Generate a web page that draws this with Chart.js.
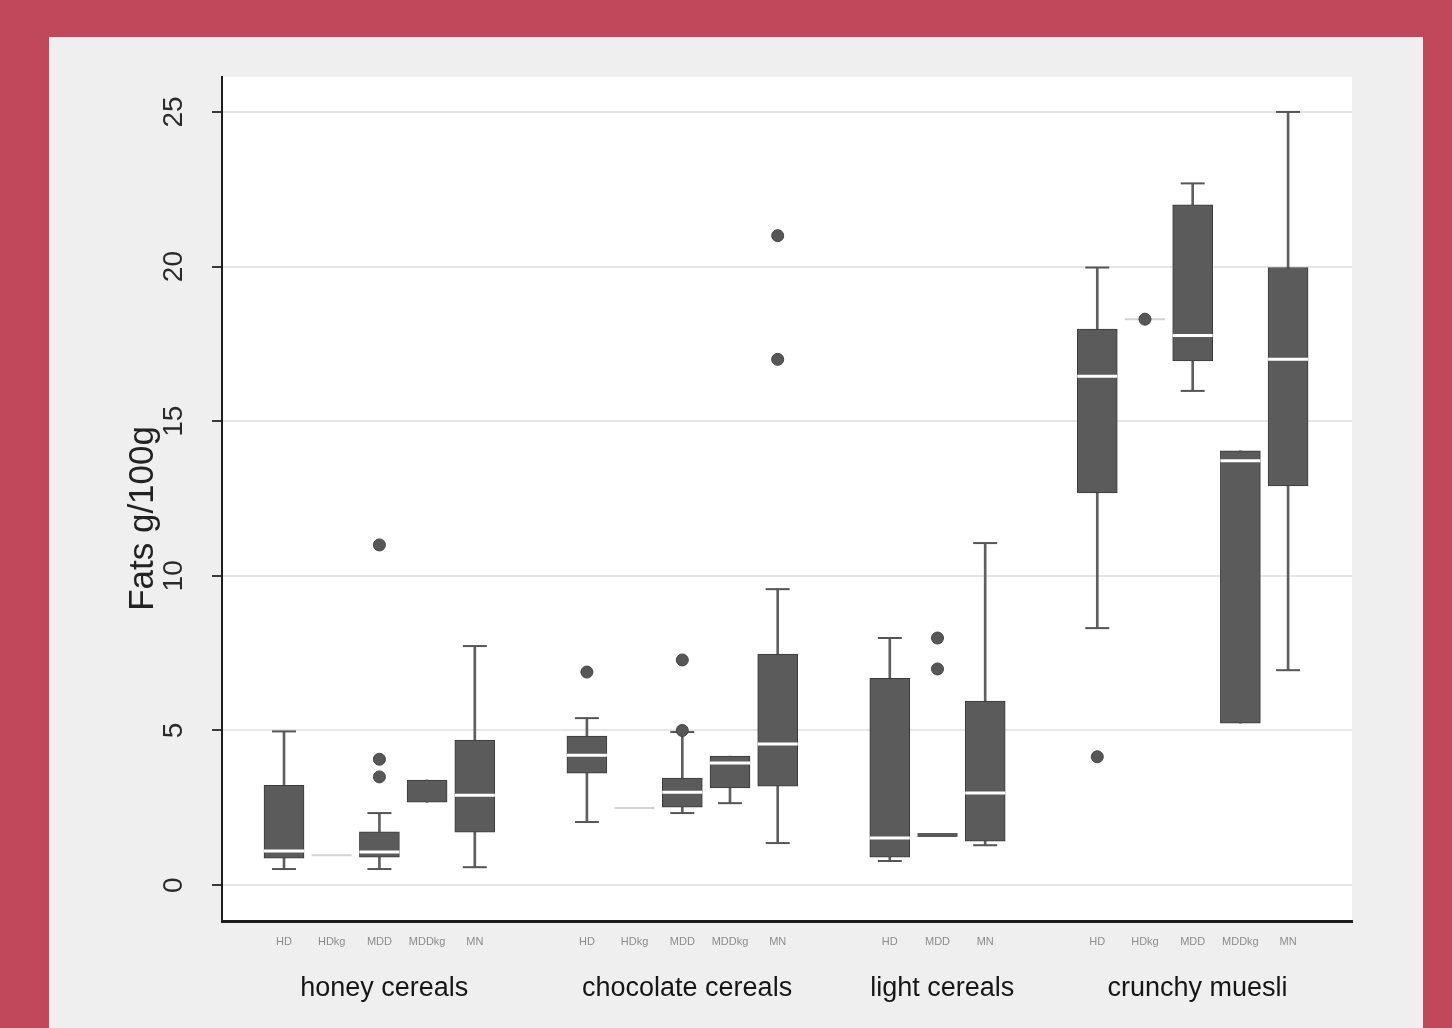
<!DOCTYPE html>
<html><head><meta charset="utf-8">
<script src="https://cdn.jsdelivr.net/npm/chart.js@4.4.1/dist/chart.umd.min.js"></script>
<style>html,body{margin:0;padding:0;background:#c1485a;overflow:hidden}canvas{display:block}</style>
</head><body>
<canvas id="c" width="1452" height="1028"></canvas>
<script>
// ---- data ----
const groups = ["honey cereals", "chocolate cereals", "light cereals", "crunchy muesli"];
const subLabels = [
  ["HD", "HDkg", "MDD", "MDDkg", "MN"],
  ["HD", "HDkg", "MDD", "MDDkg", "MN"],
  ["HD", "MDD", "MN"],
  ["HD", "HDkg", "MDD", "MDDkg", "MN"]
];
const whiskerLow  = [0.52, 0.97, 0.52, 2.68, 0.58,  2.04, 2.49, 2.33, 2.65, 1.36,  0.78, 1.62, 1.29,  8.31, 18.3, 15.98, 5.24, 6.95];
const q1          = [0.87, 0.97, 0.90, 2.68, 1.71,  3.62, 2.49, 2.52, 3.14, 3.20,  0.90, 1.62, 1.42, 12.68, 18.3, 16.95, 5.24, 12.91];
const median      = [1.10, 0.97, 1.07, null, 2.91,  4.20, 2.49, 3.00, 3.95, 4.56,  1.52, 1.62, 2.98, 16.45, 18.3, 17.77, 13.72, 17.00];
const q3          = [3.23, 0.97, 1.72, 3.40, 4.69,  4.82, 2.49, 3.46, 4.17, 7.47,  6.69, 1.62, 5.95, 17.98, 18.3, 22.00, 14.04, 19.97];
const whiskerHigh = [4.97, 0.97, 2.33, 3.40, 7.73,  5.40, 2.49, 4.95, 4.17, 9.57,  7.99, 1.62, 11.06, 19.97, 18.3, 22.69, 14.04, 25.00];
const outliers = [
  [], [], [3.50, 4.07, 11.00], [], [],
  [6.89], [], [5.00, 7.28], [], [17.00, 21.00],
  [], [6.99, 7.99], [],
  [4.15], [18.30], [], [], []
];
const yTicks = [0, 5, 10, 15, 20, 25];
const yTitle = "Fats g/100g";

// ---- layout helpers (positions derived from structure) ----
const GAP = 2.35;
const positions = [], groupCenters = [], flatLabels = [];
let start = 0;
subLabels.forEach(list => {
  list.forEach((lab, i) => { positions.push(start + i); flatLabels.push(lab); });
  groupCenters.push(start + (list.length - 1) / 2 + 0.1);
  start += list.length - 1 + GAP;
});
const flatStyle = { 11: { color: '#5a5a5a', width: 4 } };

const boxPts = [], whiskerPts = [], capPts = [], medPts = [], flatPts = [], flatColors = [], flatWidths = [], outPts = [];
positions.forEach((x, i) => {
  if (q1[i] === q3[i]) {
    flatPts.push({ x, y: q1[i] });
    const st = flatStyle[i] || { color: '#d2d2d2', width: 2 };
    flatColors.push(st.color); flatWidths.push(st.width);
  } else {
    boxPts.push({ x, y: [q1[i], q3[i]] });
    whiskerPts.push({ x, y: [whiskerLow[i], whiskerHigh[i]] });
    if (whiskerHigh[i] > q3[i]) capPts.push({ x, y: whiskerHigh[i] });
    if (whiskerLow[i] < q1[i]) capPts.push({ x, y: whiskerLow[i] });
    if (median[i] !== null) medPts.push({ x, y: median[i] });
  }
  outliers[i].forEach(v => outPts.push({ x, y: v }));
});

const FONT = "'Liberation Sans', Arial, sans-serif";
const bgPlugin = {
  id: 'bg',
  beforeDraw(chart) {
    const c = chart.ctx, a = chart.chartArea;
    c.save();
    c.fillStyle = '#c1485a'; c.fillRect(0, 0, chart.width, chart.height);
    c.fillStyle = '#efefef'; c.fillRect(49, 37, 1374, chart.height - 37);
    c.fillStyle = '#ffffff'; c.fillRect(a.left, a.top, a.right - a.left, a.bottom - a.top);
    c.restore();
  }
};

new Chart(document.getElementById('c'), {
  type: 'bar',
  data: {
    datasets: [
      { type: 'scatter', label: 'median', data: medPts, xAxisID: 'x', yAxisID: 'y', pointStyle: 'line', radius: 20, borderColor: '#ffffff', borderWidth: 3, order: 0 },
      { type: 'scatter', label: 'flat', data: flatPts, xAxisID: 'x', yAxisID: 'y', pointStyle: 'line', radius: 20, borderColor: flatColors, borderWidth: flatWidths, order: 2 },
      { type: 'scatter', label: 'outliers', data: outPts, xAxisID: 'x', yAxisID: 'y', pointStyle: 'circle', radius: 6, backgroundColor: '#575757', borderColor: '#444444', borderWidth: 1, order: 1 },
      { type: 'bar', label: 'box', data: boxPts, xAxisID: 'x', yAxisID: 'y', barThickness: 40, grouped: false, backgroundColor: '#5b5b5b', borderColor: '#3a3a3a', borderWidth: 1, borderSkipped: false, order: 3 },
      { type: 'scatter', label: 'caps', data: capPts, xAxisID: 'x', yAxisID: 'y', pointStyle: 'line', radius: 12, borderColor: '#555555', borderWidth: 2, order: 4 },
      { type: 'bar', label: 'whisker', data: whiskerPts, xAxisID: 'x', yAxisID: 'y', barThickness: 2, grouped: false, backgroundColor: '#5f5f5f', borderWidth: 0, order: 5 }
    ]
  },
  options: {
    responsive: false, animation: false, events: [],
    layout: { padding: { left: 100, right: 100, top: 77, bottom: 22 } },
    plugins: { legend: { display: false }, tooltip: { enabled: false } },
    scales: {
      x: {
        type: 'linear', position: 'bottom', weight: 0, min: -1.3, max: 22.39, offset: false,
        afterBuildTicks: s => { s.ticks = positions.map(v => ({ value: v })); },
        afterFit: s => { s.height = 35; },
        grid: { display: false, drawTicks: false, offset: false },
        border: { display: true, color: '#1e1e1e', width: 3 },
        ticks: { autoSkip: false, minRotation: 0, maxRotation: 0, padding: 14, color: '#8c8c8c',
          font: { family: FONT, size: 11 }, callback: (v, i) => flatLabels[i] }
      },
      xg: {
        type: 'linear', position: 'bottom', weight: 1, min: -1.3, max: 22.39, offset: false,
        afterBuildTicks: s => { s.ticks = groupCenters.map(v => ({ value: v })); },
        afterFit: s => { s.height = 50; },
        grid: { display: false, drawTicks: false, offset: false },
        border: { display: false },
        ticks: { autoSkip: false, minRotation: 0, maxRotation: 0, padding: 16, color: '#161616',
          font: { family: FONT, size: 27 }, callback: (v, i) => groups[i] }
      },
      y: {
        type: 'linear', position: 'left', min: -1.16, max: 26.13,
        afterBuildTicks: s => { s.ticks = yTicks.map(v => ({ value: v })); },
        afterFit: s => { s.width = 122; },
        grid: { color: '#e6e6e6', lineWidth: 2, drawTicks: true, tickLength: 10, tickColor: '#3a3a3a', tickWidth: 2 },
        border: { display: true, color: '#1e1e1e', width: 2 },
        ticks: { minRotation: 90, maxRotation: 90, crossAlign: 'center', padding: 22, color: '#2a2a2a',
          font: { family: FONT, size: 28 } },
        title: { display: true, text: yTitle + '    ', color: '#222222', font: { family: FONT, size: 35 }, padding: { top: 22, bottom: 0 } }
      }
    }
  },
  plugins: [bgPlugin]
});
</script>
</body></html>
